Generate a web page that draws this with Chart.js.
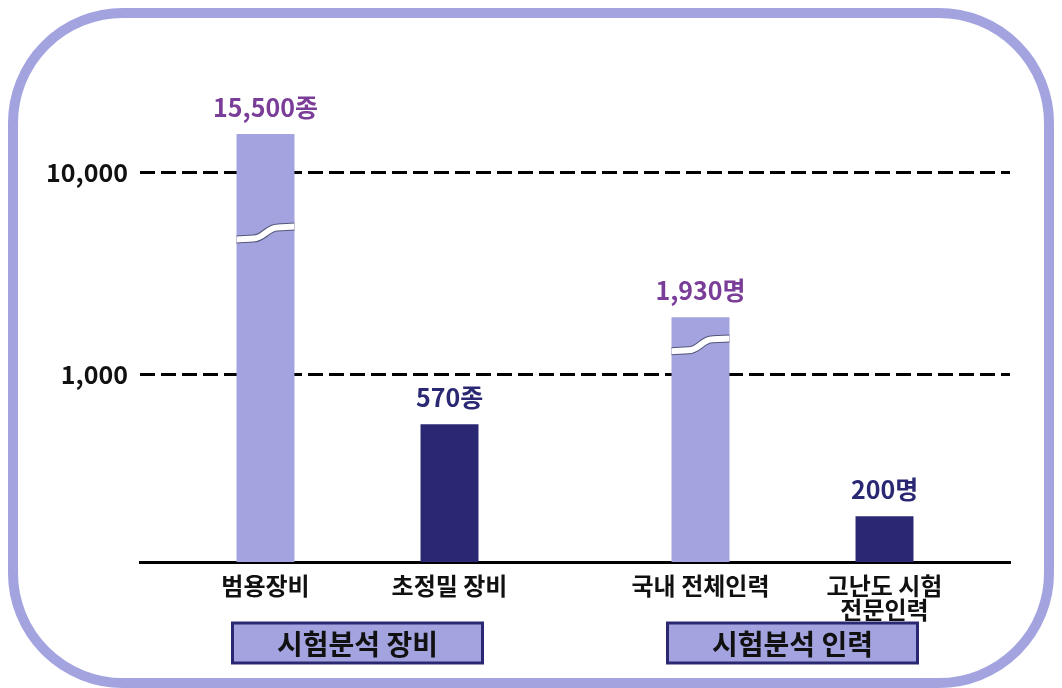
<!DOCTYPE html>
<html>
<head>
<meta charset="utf-8">
<script src="https://cdn.jsdelivr.net/npm/chart.js@4.4.1/dist/chart.umd.min.js"></script>
<style>
  html, body { margin: 0; padding: 0; background: #fff; }
  #wrap { width: 1062px; height: 688px; }
</style>
</head>
<body>
<div id="wrap"><canvas id="chart" width="1062" height="688"></canvas></div>
<script>
// 데이터
var groupNames    = ['시험분석 장비', '시험분석 인력'];
var generalNames  = ['범용장비', '국내 전체인력'];
var generalValues = [15500, 1930];
var preciseNames  = ['초정밀 장비', ['고난도 시험', '전문인력']];
var preciseValues = [570, 200];
var units         = ['종', '명'];
var yTicks        = [1000, 10000];
var breakValues   = [5000, 1400];   // 물결 표시 위치 (y축 값)

var LIGHT = '#a3a3df';
var DARK = '#2a2873';
var FONT = "'Noto Sans CJK KR', 'Noto Sans', sans-serif";

Chart.defaults.font.family = FONT;

function roundRectPath(ctx, x, y, w, h, r) {
    ctx.beginPath();
    ctx.moveTo(x + r, y);
    ctx.arcTo(x + w, y, x + w, y + h, r);
    ctx.arcTo(x + w, y + h, x, y + h, r);
    ctx.arcTo(x, y + h, x, y, r);
    ctx.arcTo(x, y, x + w, y, r);
    ctx.closePath();
}

// 바깥 둥근 테두리
var framePlugin = {
    id: 'frame',
    beforeDraw: function(chart) {
        var ctx = chart.ctx;
        ctx.save();
        ctx.fillStyle = '#fff';
        ctx.fillRect(0, 0, chart.width, chart.height);
        ctx.strokeStyle = LIGHT;
        ctx.lineWidth = 10;
        roundRectPath(ctx, 13, 13, chart.width - 26, chart.height - 18, 110);
        ctx.stroke();
        ctx.restore();
    }
};

// 막대 중간의 물결(생략) 표시
var breakPlugin = {
    id: 'breaks',
    afterDatasetsDraw: function(chart) {
        var ctx = chart.ctx;
        var yScale = chart.scales.y;
        chart.getDatasetMeta(0).data.forEach(function(bar, i) {
            var v = breakValues[i];
            if (v == null) return;
            var y = yScale.getPixelForValue(v);
            var x0 = bar.x - bar.width / 2, x1 = bar.x + bar.width / 2;
            ctx.save();
            ctx.beginPath();
            ctx.rect(x0, bar.y, bar.width, bar.base - bar.y);
            ctx.clip();
            ctx.beginPath();
            ctx.moveTo(x0 - 2, y + 6);
            ctx.lineTo(bar.x - 12, y + 5);
            ctx.bezierCurveTo(bar.x - 2, y + 5, bar.x + 2, y - 6, bar.x + 12, y - 6);
            ctx.lineTo(x1 + 2, y - 7);
            ctx.strokeStyle = '#55557a';
            ctx.lineWidth = 8;
            ctx.stroke();
            ctx.strokeStyle = '#fff';
            ctx.lineWidth = 6;
            ctx.stroke();
            ctx.restore();
        });
    }
};

// 값 라벨, 막대 이름, 그룹 상자
var labelPlugin = {
    id: 'labels',
    afterDraw: function(chart) {
        var ctx = chart.ctx;
        var xScale = chart.scales.x;
        var names = [generalNames, preciseNames];
        var valueColors = ['#7a3d98', DARK];
        ctx.save();
        ctx.textAlign = 'center';

        [0, 1].forEach(function(d) {
            var ds = chart.data.datasets[d];
            chart.getDatasetMeta(d).data.forEach(function(bar, i) {
                ctx.font = 'bold 25px ' + FONT;
                ctx.fillStyle = valueColors[d];
                ctx.textBaseline = 'alphabetic';
                ctx.fillText(ds.data[i].toLocaleString('en-US') + units[i], bar.x, bar.y - 17);

                ctx.font = 'bold 24px ' + FONT;
                ctx.fillStyle = '#111';
                var lines = [].concat(names[d][i]);
                lines.forEach(function(t, k) {
                    ctx.fillText(t, bar.x, 595 + k * 24);
                });
            });
        });

        groupNames.forEach(function(g, i) {
            var cx = xScale.getPixelForValue(i);
            var w = 250, h = 40, top = 623;
            ctx.fillStyle = LIGHT;
            ctx.fillRect(cx - w / 2, top, w, h);
            ctx.strokeStyle = DARK;
            ctx.lineWidth = 3;
            ctx.strokeRect(cx - w / 2, top, w, h);
            ctx.font = 'bold 28px ' + FONT;
            ctx.fillStyle = '#111';
            ctx.textBaseline = 'middle';
            ctx.fillText(g, cx, top + h / 2 + 1);
        });
        ctx.restore();
    }
};

new Chart(document.getElementById('chart'), {
    type: 'bar',
    data: {
        labels: groupNames,
        datasets: [
            { label: '범용', data: generalValues, backgroundColor: LIGHT,
              categoryPercentage: 0.846, barPercentage: 0.315 },
            { label: '고급', data: preciseValues, backgroundColor: DARK,
              categoryPercentage: 0.846, barPercentage: 0.315 }
        ]
    },
    options: {
        responsive: false,
        animation: false,
        layout: { padding: { left: 0, right: 52, top: 60, bottom: 126 } },
        plugins: { legend: { display: false }, tooltip: { enabled: false } },
        scales: {
            x: {
                grid: { display: false },
                ticks: { display: false },
                border: { display: true, color: '#000', width: 3 },
                afterFit: function(s) { s.height = 0; }
            },
            y: {
                type: 'logarithmic',
                min: 119,
                max: 36000,
                afterBuildTicks: function(s) {
                    s.ticks = yTicks.map(function(v) { return { value: v }; });
                },
                afterFit: function(s) { s.width = 140; },
                grid: { color: '#000', lineWidth: 3, drawTicks: false },
                border: { display: false, dash: [15, 6] },
                ticks: {
                    padding: 12,
                    color: '#111',
                    font: { size: 25, weight: 'bold' },
                    callback: function(v) { return Number(v).toLocaleString('en-US'); }
                }
            }
        }
    },
    plugins: [framePlugin, breakPlugin, labelPlugin]
});
</script>
</body>
</html>
